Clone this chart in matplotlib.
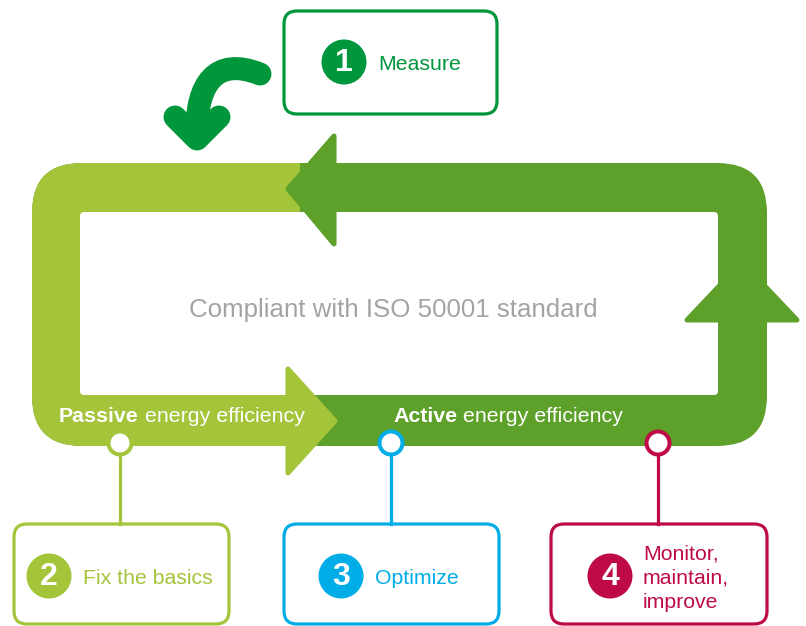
import matplotlib.pyplot as plt
from matplotlib.patches import FancyBboxPatch, Rectangle, Polygon, Circle, PathPatch
from matplotlib.path import Path
from matplotlib.lines import Line2D

# Diagram content
step_numbers = ["1", "2", "3", "4"]
step_labels = ["Measure", "Fix the basics", "Optimize", "Monitor,\nmaintain,\nimprove"]
step_colors = ["#00963C", "#A4C43A", "#00ADE6", "#BE0B47"]
center_text = "Compliant with ISO 50001 standard"
band_bold = ["Passive", "Active"]
band_rest = [" energy efficiency", " energy efficiency"]

LIGHT = "#A4C43A"
DARK = "#5DA12A"
GREY = "#A3A3A3"
FONT = "Liberation Sans"

fig = plt.figure(figsize=(8.06, 6.26), dpi=100)
ax = fig.add_axes([0, 0, 1, 1])
ax.set_xlim(0, 806)
ax.set_ylim(626, 0)
ax.axis('off')


def px(v):
    # pixels to points
    return v * 0.72


# Loop band: dark green everywhere, light green on the left part
outer = dict(boxstyle="round,pad=0,rounding_size=50")
ax.add_patch(FancyBboxPatch((32, 163), 735, 283, fc=DARK, ec='none', **outer))
light = FancyBboxPatch((32, 163), 735, 283, fc=LIGHT, ec='none', **outer)
ax.add_patch(light)
clip = Rectangle((0, 0), 300, 626, transform=ax.transData)
light.set_clip_path(clip)
ax.add_patch(FancyBboxPatch((80, 212), 638, 183, fc='white', ec='none',
                            boxstyle="round,pad=0,rounding_size=4"))

# Arrow heads on the band (rounded corners via thick edge)
heads = [
    ([(288, 189), (334, 136), (334, 244)], DARK),   # top, pointing left
    ([(335, 421), (288, 369), (288, 473)], LIGHT),  # bottom, pointing right
    ([(742, 262), (687, 320), (797, 320)], DARK),   # right, pointing up
]
for pts, col in heads:
    ax.add_patch(Polygon(pts, closed=True, fc=col, ec=col, lw=px(5), joinstyle='round'))

ax.text(393, 310, center_text, color=GREY, fontsize=18.6, family=FONT,
        ha='center', va='center')

# Band labels: bold word followed by regular text
for x0, b, r in zip([59, 393], band_bold, band_rest):
    t = ax.text(x0, 426, b, color='white', fontsize=15.4, family=FONT,
                fontweight='bold', ha='left', va='bottom')
    ax.annotate(r, xy=(1, 0), xycoords=t, color='white', fontsize=15.4,
                family=FONT, ha='left', va='bottom')

# Curved arrow into the loop
arc = Path([(260, 74), (215, 56), (197, 85), (197, 130)],
           [Path.MOVETO, Path.CURVE4, Path.CURVE4, Path.CURVE4])
ax.add_patch(PathPatch(arc, fc='none', ec=step_colors[0], lw=px(23), capstyle='round'))
ax.add_line(Line2D([175, 197, 219], [117, 139, 117], color=step_colors[0], lw=px(23),
                   solid_capstyle='round', solid_joinstyle='round'))

# Step boxes
boxes = [(284, 11, 213, 103), (14, 524, 215, 100), (284, 524, 215, 100), (551, 524, 216, 100)]
num_pos = [(344, 62), (49, 576), (341, 576), (610, 576)]
text_x = [378, 83, 375, 643]
for (bx, by, bw, bh), (cx, cy), tx, num, lab, col in zip(
        boxes, num_pos, text_x, step_numbers, step_labels, step_colors):
    ax.add_patch(FancyBboxPatch((bx, by), bw, bh, fc='white', ec=col, lw=px(3.2),
                                boxstyle="round,pad=0,rounding_size=13"))
    ax.add_patch(Circle((cx, cy), 22.5, fc=col, ec='none'))
    ax.text(cx, cy + 1, num, color='white', fontsize=23, fontweight='bold',
            family=FONT, ha='center', va='center')
    ax.text(tx, cy + 2, lab, color=col, fontsize=15.3, family=FONT,
            ha='left', va='center', linespacing=1.36)

# Connector lines with ring markers on the band
conn_x = [120, 391, 658]
for x, col in zip(conn_x, step_colors[1:]):
    ax.add_line(Line2D([x, x], [443, 524], color=col, lw=px(3.2), zorder=2))
    ax.add_patch(Circle((x, 443), 11.5, fc='white', ec=col, lw=px(4), zorder=3))

plt.savefig("out.png", dpi=100)
plt.close()
